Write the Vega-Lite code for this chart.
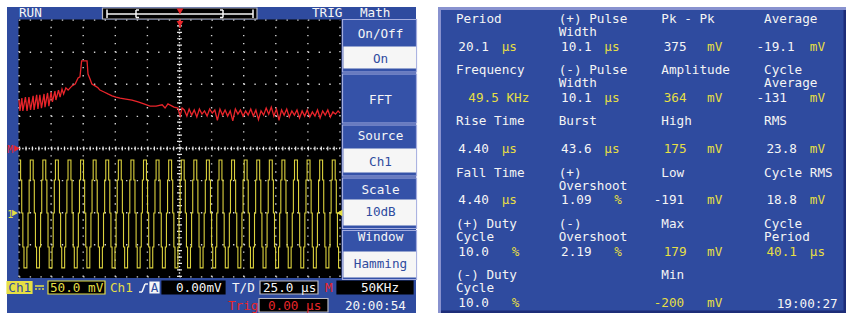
{
"$schema": "https://vega.github.io/schema/vega-lite/v6.json",
"width": 849, "height": 314,
"autosize": {"type": "fit", "contains": "padding"},
"padding": 0,
"background": "#ffffff",
"config": {"view": {"stroke": null}, "axis": {"disable": true}, "legend": {"disable": true}, "text": {"font": "DejaVu Sans Mono", "fontSize": 12.66, "baseline": "alphabetic"}},
"datasets": {
"bg": [
{"x":7,"x2":416,"y":7,"y2":313,"k":"panel"},
{"x":438,"x2":846,"y":7,"y2":313,"k":"bevelLight"},
{"x":441,"x2":846,"y":10,"y2":313,"k":"bevelDark"},
{"x":441,"x2":843.5,"y":10,"y2":310.5,"k":"panel"},
{"x":18.5,"x2":341.5,"y":19.5,"y2":278,"k":"screen"}
],
"boxes": [
{"x":342.5,"x2":416.5,"y":19.5,"y2":72,"k":"menu","s":"menuEdge"},
{"x":342.5,"x2":416.5,"y":74,"y2":123,"k":"menu","s":"menuEdge"},
{"x":342.5,"x2":416.5,"y":125,"y2":176,"k":"menu","s":"menuEdge"},
{"x":342.5,"x2":416.5,"y":178,"y2":228.5,"k":"menu","s":"menuEdge"},
{"x":342.5,"x2":416.5,"y":230.5,"y2":279.5,"k":"menu","s":"menuEdge"},
{"x":344,"x2":415.5,"y":47,"y2":68,"k":"white","s":"white"},
{"x":344,"x2":415.5,"y":149,"y2":172,"k":"white","s":"white"},
{"x":344,"x2":415.5,"y":200,"y2":225,"k":"white","s":"white"},
{"x":344,"x2":415.5,"y":252,"y2":277,"k":"white","s":"white"},
{"x":102.5,"x2":257,"y":8,"y2":19,"k":"black","s":"grey"},
{"x":7,"x2":32,"y":281.5,"y2":293.5,"k":"yellow","s":"yellow"},
{"x":48,"x2":105,"y":281,"y2":294,"k":"black","s":"yellow"},
{"x":150,"x2":159,"y":282,"y2":293,"k":"white","s":"white"},
{"x":162,"x2":225,"y":281,"y2":294,"k":"black","s":"black"},
{"x":260,"x2":318,"y":281,"y2":294,"k":"black","s":"grey"},
{"x":337,"x2":413,"y":281,"y2":294,"k":"black","s":"black"},
{"x":259,"x2":328,"y":298.5,"y2":312,"k":"black","s":"grey"}
],
"segs": [
{"x":107,"y":14,"x2":253,"y2":14,"k":"white"},
{"x":107,"y":9.5,"x2":107,"y2":18,"k":"white"},
{"x":253,"y":9.5,"x2":253,"y2":18,"k":"white"},
{"x":136,"y":10,"x2":136,"y2":17.5,"k":"white"},
{"x":136,"y":10,"x2":139,"y2":10,"k":"white"},
{"x":136,"y":17.5,"x2":139,"y2":17.5,"k":"white"},
{"x":223,"y":10,"x2":223,"y2":17.5,"k":"white"},
{"x":220,"y":10,"x2":223,"y2":10,"k":"white"},
{"x":220,"y":17.5,"x2":223,"y2":17.5,"k":"white"},
{"x":180,"y":19.5,"x2":180,"y2":28,"k":"red"},
{"x":35,"y":286,"x2":44,"y2":286,"k":"yellow"},
{"x":35,"y":289,"x2":37,"y2":289,"k":"yellow"},
{"x":38.5,"y":289,"x2":40.5,"y2":289,"k":"yellow"},
{"x":42,"y":289,"x2":44,"y2":289,"k":"yellow"},
{"x":139,"y":292,"x2":142,"y2":292,"k":"white"},
{"x":142,"y":292,"x2":145,"y2":284,"k":"white"},
{"x":145,"y":284,"x2":148,"y2":284,"k":"white"}
],
"tri": [
{"x":180,"y":11.5,"k":"red","sh":"triangle-down"},
{"x":180,"y":24,"k":"red","sh":"triangle-down"},
{"x":17,"y":148.5,"k":"red","sh":"triangle-right"},
{"x":15,"y":213,"k":"yellow","sh":"triangle-right"},
{"x":339.5,"y":213,"k":"yellow","sh":"triangle-left"}
],
"small": [
{"x":7.3,"y":152.5,"t":"M","k":"red"},
{"x":7.3,"y":217.5,"t":"1","k":"yellow"}
],
"ltext": [
{"x":19,"y":17.3,"t":"RUN","k":"white"},
{"x":312,"y":17.3,"t":"TRIG","k":"white"},
{"x":360,"y":17.3,"t":"Math","k":"white"},
{"x":8.3,"y":291.5,"t":"Ch1","k":"blue"},
{"x":50,"y":291.5,"t":"50.0 mV","k":"yellow"},
{"x":110,"y":291.5,"t":"Ch1","k":"yellow"},
{"x":176,"y":291.5,"t":"0.00mV","k":"white"},
{"x":232,"y":291.5,"t":"T/D","k":"white"},
{"x":263,"y":291.5,"t":"25.0 µs","k":"white"},
{"x":325,"y":291.5,"t":"M","k":"red"},
{"x":228,"y":309.5,"t":"Trig","k":"red"},
{"x":268,"y":309.5,"t":"0.00 µs","k":"red"},
{"x":345,"y":309.5,"t":"20:00:54","k":"white"},
{"x":776.7,"y":307.7,"t":"19:00:27","k":"white"}
],
"ctext": [
{"x":380.5,"y":37.5,"t":"On/Off","k":"white"},
{"x":380.5,"y":62.5,"t":"On","k":"blue"},
{"x":380.5,"y":103.5,"t":"FFT","k":"white"},
{"x":380.5,"y":139.9,"t":"Source","k":"white"},
{"x":380.5,"y":165.9,"t":"Ch1","k":"blue"},
{"x":380.5,"y":194.2,"t":"Scale","k":"white"},
{"x":380.5,"y":215.9,"t":"10dB","k":"blue"},
{"x":380.5,"y":240.9,"t":"Window","k":"white"},
{"x":380.5,"y":268.2,"t":"Hamming","k":"blue"},
{"x":154.5,"y":291.5,"t":"A","k":"blue"},
{"x":380,"y":291.5,"t":"50KHz","k":"white"}
],
"meas": [
{"c":0,"r":0,"l1":"Period","l2":"","val":"\u280020.1","unit":"µs","k":"white"},
{"c":1,"r":0,"l1":"(+) Pulse","l2":"Width","val":"\u280010.1","unit":"µs","k":"white"},
{"c":2,"r":0,"l1":"Pk - Pk","l2":"","val":"\u2800375","unit":"mV","k":"white"},
{"c":3,"r":0,"l1":"Average","l2":"","val":"-19.1","unit":"mV","k":"white"},
{"c":0,"r":1,"l1":"Frequency","l2":"","val":"\u2800\u280049.5 KHz","unit":"","k":"yellow"},
{"c":1,"r":1,"l1":"(-) Pulse","l2":"Width","val":"\u280010.1","unit":"µs","k":"white"},
{"c":2,"r":1,"l1":"Amplitude","l2":"","val":"\u2800364","unit":"mV","k":"yellow"},
{"c":3,"r":1,"l1":"Cycle","l2":"Average","val":"-131","unit":"mV","k":"white"},
{"c":0,"r":2,"l1":"Rise Time","l2":"","val":"\u28004.40","unit":"µs","k":"white"},
{"c":1,"r":2,"l1":"Burst","l2":"","val":"\u280043.6","unit":"µs","k":"white"},
{"c":2,"r":2,"l1":"High","l2":"","val":"\u2800175","unit":"mV","k":"yellow"},
{"c":3,"r":2,"l1":"RMS","l2":"","val":"\u280023.8","unit":"mV","k":"white"},
{"c":0,"r":3,"l1":"Fall Time","l2":"","val":"\u28004.40","unit":"µs","k":"white"},
{"c":1,"r":3,"l1":"(+)","l2":"Overshoot","val":"\u28001.09","unit":"\u2800%","k":"white"},
{"c":2,"r":3,"l1":"Low","l2":"","val":"-191","unit":"mV","k":"white"},
{"c":3,"r":3,"l1":"Cycle RMS","l2":"","val":"\u280018.8","unit":"mV","k":"white"},
{"c":0,"r":4,"l1":"(+) Duty","l2":"Cycle","val":"\u280010.0","unit":"\u2800%","k":"white"},
{"c":1,"r":4,"l1":"(-)","l2":"Overshoot","val":"\u28002.19","unit":"\u2800%","k":"white"},
{"c":2,"r":4,"l1":"Max","l2":"","val":"\u2800179","unit":"mV","k":"yellow"},
{"c":3,"r":4,"l1":"Cycle","l2":"Period","val":"\u280040.1","unit":"µs","k":"yellow"},
{"c":0,"r":5,"l1":"(-) Duty","l2":"Cycle","val":"\u280010.0","unit":"\u2800%","k":"white"},
{"c":2,"r":5,"l1":"Min","l2":"","val":"-200","unit":"mV","k":"yellow"}
],
"hgrid": [{"v":-4},{"v":-3},{"v":-2},{"v":-1},{"v":1},{"v":2},{"v":3},{"v":4}],
"vgrid": [{"t":0},{"t":1},{"t":2},{"t":3},{"t":4},{"t":6},{"t":7},{"t":8},{"t":9},{"t":10}],
"center": [{"t":5,"v":0}],
"fft": [
{"t":0,"v":1.51},{"t":0.03,"v":1.17},{"t":0.09,"v":1.57},{"t":0.12,"v":1.17},{"t":0.2,"v":1.6},{"t":0.25,"v":1.17},{"t":0.31,"v":1.6},{"t":0.36,"v":1.2},{"t":0.44,"v":1.64},{"t":0.47,"v":1.2},{"t":0.55,"v":1.67},{"t":0.59,"v":1.23},{"t":0.65,"v":1.67},{"t":0.7,"v":1.26},{"t":0.78,"v":1.7},{"t":0.81,"v":1.29},{"t":0.89,"v":1.73},{"t":0.93,"v":1.32},{"t":1.0,"v":1.76},{"t":1.04,"v":1.45},{"t":1.12,"v":1.79},{"t":1.15,"v":1.51},{"t":1.23,"v":1.82},{"t":1.28,"v":1.6},{"t":1.34,"v":1.85},{"t":1.39,"v":1.7},{"t":1.46,"v":1.89},{"t":1.53,"v":1.82},{"t":1.65,"v":1.95},{"t":1.75,"v":2.01},{"t":1.84,"v":2.2},{"t":1.9,"v":2.23},{"t":1.95,"v":2.73},{"t":2.12,"v":2.73},{"t":2.15,"v":2.32},{"t":2.21,"v":2.17},{"t":2.27,"v":2.01},{"t":2.37,"v":1.95},{"t":2.46,"v":1.89},{"t":2.52,"v":1.82},{"t":2.65,"v":1.76},{"t":2.77,"v":1.7},{"t":2.9,"v":1.64},{"t":3.02,"v":1.6},{"t":3.15,"v":1.57},{"t":3.33,"v":1.54},{"t":3.52,"v":1.51},{"t":3.71,"v":1.45},{"t":3.89,"v":1.39},{"t":4.08,"v":1.32},{"t":4.27,"v":1.32},{"t":4.46,"v":1.36},{"t":4.55,"v":1.26},{"t":4.64,"v":1.39},{"t":4.83,"v":1.29},{"t":4.95,"v":1.26},{"t":5.02,"v":1.01},{"t":5.08,"v":1.26},
{"t":5.15,"v":1.2},{"t":5.23,"v":1.01},{"t":5.3,"v":1.23},{"t":5.38,"v":1.04},{"t":5.46,"v":1.2},{"t":5.54,"v":0.98},{"t":5.62,"v":1.23},{"t":5.7,"v":1.07},{"t":5.78,"v":1.17},{"t":5.86,"v":1.01},{"t":5.94,"v":1.23},{"t":6.02,"v":1.1},{"t":6.1,"v":1.2},{"t":6.18,"v":0.88},{"t":6.26,"v":1.23},{"t":6.34,"v":1.04},{"t":6.42,"v":1.2},{"t":6.5,"v":1.01},{"t":6.58,"v":1.17},{"t":6.66,"v":0.86},{"t":6.74,"v":1.23},{"t":6.82,"v":1.07},{"t":6.9,"v":1.2},{"t":6.98,"v":1.01},{"t":7.06,"v":1.17},{"t":7.14,"v":1.04},{"t":7.22,"v":1.23},{"t":7.3,"v":1.01},{"t":7.38,"v":1.2},{"t":7.46,"v":0.9},{"t":7.54,"v":1.17},{"t":7.62,"v":1.04},{"t":7.7,"v":1.26},{"t":7.78,"v":1.07},{"t":7.86,"v":1.29},{"t":7.94,"v":1.01},{"t":8.02,"v":1.23},{"t":8.1,"v":0.88},{"t":8.18,"v":1.2},{"t":8.26,"v":1.04},{"t":8.34,"v":1.23},{"t":8.42,"v":0.98},{"t":8.5,"v":1.17},{"t":8.58,"v":1.04},{"t":8.66,"v":1.2},{"t":8.74,"v":0.95},{"t":8.82,"v":1.17},{"t":8.9,"v":1.01},{"t":8.98,"v":1.2},{"t":9.06,"v":0.98},{"t":9.14,"v":1.14},{"t":9.22,"v":1.01},{"t":9.3,"v":1.2},{"t":9.38,"v":0.95},{"t":9.46,"v":1.17},{"t":9.54,"v":1.04},{"t":9.62,"v":1.2},{"t":9.7,"v":0.98},{"t":9.78,"v":1.14},{"t":9.86,"v":1.07},{"t":9.94,"v":1.17},{"t":10.0,"v":1.1}
],
"ch1": [
{"t":0,"v":-0.36},{"t":0.05,"v":-0.98},{"t":0.085,"v":-2.01},{"t":0.12,"v":-3.07},{"t":0.155,"v":-3.72},
{"t":0.246,"v":-3.07},{"t":0.281,"v":-2.01},{"t":0.316,"v":-0.98},{"t":0.351,"v":-0.36},{"t":0.442,"v":-0.98},{"t":0.477,"v":-2.01},{"t":0.512,"v":-3.07},{"t":0.547,"v":-3.72},
{"t":0.638,"v":-3.07},{"t":0.673,"v":-2.01},{"t":0.708,"v":-0.98},{"t":0.743,"v":-0.36},{"t":0.834,"v":-0.98},{"t":0.869,"v":-2.01},{"t":0.904,"v":-3.07},{"t":0.939,"v":-3.72},
{"t":1.03,"v":-3.07},{"t":1.065,"v":-2.01},{"t":1.1,"v":-0.98},{"t":1.135,"v":-0.36},{"t":1.226,"v":-0.98},{"t":1.261,"v":-2.01},{"t":1.296,"v":-3.07},{"t":1.331,"v":-3.72},
{"t":1.422,"v":-3.07},{"t":1.457,"v":-2.01},{"t":1.492,"v":-0.98},{"t":1.527,"v":-0.36},{"t":1.618,"v":-0.98},{"t":1.653,"v":-2.01},{"t":1.688,"v":-3.07},{"t":1.723,"v":-3.72},
{"t":1.814,"v":-3.07},{"t":1.849,"v":-2.01},{"t":1.884,"v":-0.98},{"t":1.919,"v":-0.36},{"t":2.01,"v":-0.98},{"t":2.045,"v":-2.01},{"t":2.08,"v":-3.07},{"t":2.115,"v":-3.72},
{"t":2.206,"v":-3.07},{"t":2.241,"v":-2.01},{"t":2.276,"v":-0.98},{"t":2.311,"v":-0.36},{"t":2.402,"v":-0.98},{"t":2.437,"v":-2.01},{"t":2.472,"v":-3.07},{"t":2.507,"v":-3.72},
{"t":2.598,"v":-3.07},{"t":2.633,"v":-2.01},{"t":2.668,"v":-0.98},{"t":2.703,"v":-0.36},{"t":2.794,"v":-0.98},{"t":2.829,"v":-2.01},{"t":2.864,"v":-3.07},{"t":2.899,"v":-3.72},
{"t":2.99,"v":-3.07},{"t":3.025,"v":-2.01},{"t":3.06,"v":-0.98},{"t":3.095,"v":-0.36},{"t":3.186,"v":-0.98},{"t":3.221,"v":-2.01},{"t":3.256,"v":-3.07},{"t":3.291,"v":-3.72},
{"t":3.382,"v":-3.07},{"t":3.417,"v":-2.01},{"t":3.452,"v":-0.98},{"t":3.487,"v":-0.36},{"t":3.578,"v":-0.98},{"t":3.613,"v":-2.01},{"t":3.648,"v":-3.07},{"t":3.683,"v":-3.72},
{"t":3.774,"v":-3.07},{"t":3.809,"v":-2.01},{"t":3.844,"v":-0.98},{"t":3.879,"v":-0.36},{"t":3.97,"v":-0.98},{"t":4.005,"v":-2.01},{"t":4.04,"v":-3.07},{"t":4.075,"v":-3.72},
{"t":4.166,"v":-3.07},{"t":4.201,"v":-2.01},{"t":4.236,"v":-0.98},{"t":4.271,"v":-0.36},{"t":4.362,"v":-0.98},{"t":4.397,"v":-2.01},{"t":4.432,"v":-3.07},{"t":4.467,"v":-3.72},
{"t":4.558,"v":-3.07},{"t":4.593,"v":-2.01},{"t":4.628,"v":-0.98},{"t":4.663,"v":-0.36},{"t":4.754,"v":-0.98},{"t":4.789,"v":-2.01},{"t":4.824,"v":-3.07},{"t":4.859,"v":-3.72},
{"t":4.95,"v":-3.07},{"t":4.985,"v":-2.01},{"t":5.02,"v":-0.98},{"t":5.055,"v":-0.36},{"t":5.146,"v":-0.98},{"t":5.181,"v":-2.01},{"t":5.216,"v":-3.07},{"t":5.251,"v":-3.72},
{"t":5.342,"v":-3.07},{"t":5.377,"v":-2.01},{"t":5.412,"v":-0.98},{"t":5.447,"v":-0.36},{"t":5.538,"v":-0.98},{"t":5.573,"v":-2.01},{"t":5.608,"v":-3.07},{"t":5.643,"v":-3.72},
{"t":5.734,"v":-3.07},{"t":5.769,"v":-2.01},{"t":5.804,"v":-0.98},{"t":5.839,"v":-0.36},{"t":5.93,"v":-0.98},{"t":5.965,"v":-2.01},{"t":6.0,"v":-3.07},{"t":6.035,"v":-3.72},
{"t":6.126,"v":-3.07},{"t":6.161,"v":-2.01},{"t":6.196,"v":-0.98},{"t":6.231,"v":-0.36},{"t":6.322,"v":-0.98},{"t":6.357,"v":-2.01},{"t":6.392,"v":-3.07},{"t":6.427,"v":-3.72},
{"t":6.518,"v":-3.07},{"t":6.553,"v":-2.01},{"t":6.588,"v":-0.98},{"t":6.623,"v":-0.36},{"t":6.714,"v":-0.98},{"t":6.749,"v":-2.01},{"t":6.784,"v":-3.07},{"t":6.819,"v":-3.72},
{"t":6.91,"v":-3.07},{"t":6.945,"v":-2.01},{"t":6.98,"v":-0.98},{"t":7.015,"v":-0.36},{"t":7.106,"v":-0.98},{"t":7.141,"v":-2.01},{"t":7.176,"v":-3.07},{"t":7.211,"v":-3.72},
{"t":7.302,"v":-3.07},{"t":7.337,"v":-2.01},{"t":7.372,"v":-0.98},{"t":7.407,"v":-0.36},{"t":7.498,"v":-0.98},{"t":7.533,"v":-2.01},{"t":7.568,"v":-3.07},{"t":7.603,"v":-3.72},
{"t":7.694,"v":-3.07},{"t":7.729,"v":-2.01},{"t":7.764,"v":-0.98},{"t":7.799,"v":-0.36},{"t":7.89,"v":-0.98},{"t":7.925,"v":-2.01},{"t":7.96,"v":-3.07},{"t":7.995,"v":-3.72},
{"t":8.086,"v":-3.07},{"t":8.121,"v":-2.01},{"t":8.156,"v":-0.98},{"t":8.191,"v":-0.36},{"t":8.282,"v":-0.98},{"t":8.317,"v":-2.01},{"t":8.352,"v":-3.07},{"t":8.387,"v":-3.72},
{"t":8.478,"v":-3.07},{"t":8.513,"v":-2.01},{"t":8.548,"v":-0.98},{"t":8.583,"v":-0.36},{"t":8.674,"v":-0.98},{"t":8.709,"v":-2.01},{"t":8.744,"v":-3.07},{"t":8.779,"v":-3.72},
{"t":8.87,"v":-3.07},{"t":8.905,"v":-2.01},{"t":8.94,"v":-0.98},{"t":8.975,"v":-0.36},{"t":9.066,"v":-0.98},{"t":9.101,"v":-2.01},{"t":9.136,"v":-3.07},{"t":9.171,"v":-3.72},
{"t":9.262,"v":-3.07},{"t":9.297,"v":-2.01},{"t":9.332,"v":-0.98},{"t":9.367,"v":-0.36},{"t":9.458,"v":-0.98},{"t":9.493,"v":-2.01},{"t":9.528,"v":-3.07},{"t":9.563,"v":-3.72},
{"t":9.654,"v":-3.07},{"t":9.689,"v":-2.01},{"t":9.724,"v":-0.98},{"t":9.759,"v":-0.36},{"t":9.85,"v":-0.98},{"t":9.885,"v":-2.01},{"t":9.92,"v":-3.07},{"t":9.955,"v":-3.72},
{"t":10.0,"v":-3.72}
]
},
"layer": [
{
"layer": [
{"data": {"name": "bg"}, "mark": {"type": "rect"},
 "encoding": {
  "x": {"field": "x", "type": "quantitative", "scale": {"domain": [0, 849], "nice": false, "zero": false}},
  "x2": {"field": "x2"},
  "y": {"field": "y", "type": "quantitative", "scale": {"domain": [0, 314], "reverse": true, "nice": false, "zero": false}},
  "y2": {"field": "y2"},
  "fill": {"field": "k", "type": "nominal", "scale": {"domain": ["panel","bevelLight","bevelDark","screen","menu","menuEdge","white","yellow","red","blue","grey","black"], "range": ["#2f4b9f","#8892cf","#1d2d78","#000000","#3552a8","#a3acdf","#f6f6f6","#e6df45","#e8262a","#2f4c9f","#b8b8c0","#000000"]}}
 }},
{"data": {"name": "boxes"}, "mark": {"type": "rect", "strokeWidth": 1.2},
 "encoding": {
  "x": {"field": "x", "type": "quantitative", "scale": {"domain": [0, 849], "nice": false, "zero": false}},
  "x2": {"field": "x2"},
  "y": {"field": "y", "type": "quantitative", "scale": {"domain": [0, 314], "reverse": true, "nice": false, "zero": false}},
  "y2": {"field": "y2"},
  "fill": {"field": "k", "type": "nominal", "scale": {"domain": ["panel","bevelLight","bevelDark","screen","menu","menuEdge","white","yellow","red","blue","grey","black"], "range": ["#2f4b9f","#8892cf","#1d2d78","#000000","#3552a8","#a3acdf","#f6f6f6","#e6df45","#e8262a","#2f4c9f","#b8b8c0","#000000"]}},
  "stroke": {"field": "s", "type": "nominal", "scale": {"domain": ["panel","bevelLight","bevelDark","screen","menu","menuEdge","white","yellow","red","blue","grey","black"], "range": ["#2f4b9f","#8892cf","#1d2d78","#000000","#3552a8","#a3acdf","#f6f6f6","#e6df45","#e8262a","#2f4c9f","#b8b8c0","#000000"]}}
 }}
]
},
{
"layer": [
{"data": {"name": "hgrid"}, "mark": {"type": "rule", "color": "#d0d0d0", "strokeWidth": 1.4, "strokeDash": [1.4, 9.3]},
 "encoding": {
  "y": {"field": "v", "type": "quantitative", "scale": {"domain": [-5.156, 4.626], "nice": false, "zero": false}},
  "x": {"datum": 0, "type": "quantitative", "scale": {"domain": [-0.5919, 25.857], "nice": false, "zero": false}},
  "x2": {"datum": 10}
 }},
{"data": {"name": "vgrid"}, "mark": {"type": "rule", "color": "#d0d0d0", "strokeWidth": 1.4, "strokeDash": [1.4, 6.62]},
 "encoding": {
  "x": {"field": "t", "type": "quantitative", "scale": {"domain": [-0.5919, 25.857], "nice": false, "zero": false}},
  "y": {"datum": -4, "type": "quantitative", "scale": {"domain": [-5.156, 4.626], "nice": false, "zero": false}},
  "y2": {"datum": 4}
 }},
{"data": {"name": "center"}, "mark": {"type": "rule", "color": "#e8e8e8", "strokeWidth": 1.4, "strokeDash": [1.4, 1.8]},
 "encoding": {
  "y": {"field": "v", "type": "quantitative"},
  "x": {"datum": 0, "type": "quantitative"},
  "x2": {"datum": 10}
 }},
{"data": {"name": "center"}, "mark": {"type": "rule", "color": "#e8e8e8", "strokeWidth": 4, "strokeDash": [1.2, 5.22]},
 "encoding": {
  "y": {"field": "v", "type": "quantitative"},
  "x": {"datum": 0, "type": "quantitative"},
  "x2": {"datum": 10}
 }},
{"data": {"name": "center"}, "mark": {"type": "rule", "color": "#e8e8e8", "strokeWidth": 1.4, "strokeDash": [1.4, 1.8]},
 "encoding": {
  "x": {"field": "t", "type": "quantitative"},
  "y": {"datum": -4, "type": "quantitative"},
  "y2": {"datum": 4}
 }},
{"data": {"name": "center"}, "mark": {"type": "rule", "color": "#e8e8e8", "strokeWidth": 5, "strokeDash": [1.2, 5.22]},
 "encoding": {
  "x": {"field": "t", "type": "quantitative"},
  "y": {"datum": -4, "type": "quantitative"},
  "y2": {"datum": 4}
 }},
{"data": {"name": "fft"}, "mark": {"type": "line", "color": "#e8242a", "strokeWidth": 1.3},
 "encoding": {
  "x": {"field": "t", "type": "quantitative"},
  "y": {"field": "v", "type": "quantitative"}
 }},
{"data": {"name": "ch1"}, "mark": {"type": "line", "color": "#dcd23e", "strokeWidth": 1.1, "interpolate": "step-after"},
 "encoding": {
  "x": {"field": "t", "type": "quantitative"},
  "y": {"field": "v", "type": "quantitative"}
 }}
]
},
{
"layer": [
{"data": {"name": "segs"}, "mark": {"type": "rule", "strokeWidth": 1.5},
 "encoding": {
  "x": {"field": "x", "type": "quantitative", "scale": {"domain": [0, 849], "nice": false, "zero": false}},
  "x2": {"field": "x2"},
  "y": {"field": "y", "type": "quantitative", "scale": {"domain": [0, 314], "reverse": true, "nice": false, "zero": false}},
  "y2": {"field": "y2"},
  "color": {"field": "k", "type": "nominal", "scale": {"domain": ["panel","bevelLight","bevelDark","screen","menu","menuEdge","white","yellow","red","blue","grey","black"], "range": ["#2f4b9f","#8892cf","#1d2d78","#000000","#3552a8","#a3acdf","#f6f6f6","#e6df45","#e8262a","#2f4c9f","#b8b8c0","#000000"]}}
 }},
{"data": {"name": "tri"}, "mark": {"type": "point", "filled": true, "size": 45, "opacity": 1},
 "encoding": {
  "x": {"field": "x", "type": "quantitative"},
  "y": {"field": "y", "type": "quantitative"},
  "shape": {"field": "sh", "type": "nominal", "scale": {"domain": ["triangle-down","triangle-right","triangle-left"], "range": ["triangle-down","triangle-right","triangle-left"]}},
  "color": {"field": "k", "type": "nominal"}
 }},
{"data": {"name": "small"}, "mark": {"type": "text", "align": "left", "fontSize": 10},
 "encoding": {
  "x": {"field": "x", "type": "quantitative"},
  "y": {"field": "y", "type": "quantitative"},
  "text": {"field": "t"},
  "color": {"field": "k", "type": "nominal"}
 }},
{"data": {"name": "ltext"}, "mark": {"type": "text", "align": "left"},
 "encoding": {
  "x": {"field": "x", "type": "quantitative"},
  "y": {"field": "y", "type": "quantitative"},
  "text": {"field": "t"},
  "color": {"field": "k", "type": "nominal"}
 }},
{"data": {"name": "ctext"}, "mark": {"type": "text", "align": "center"},
 "encoding": {
  "x": {"field": "x", "type": "quantitative"},
  "y": {"field": "y", "type": "quantitative"},
  "text": {"field": "t"},
  "color": {"field": "k", "type": "nominal"}
 }}
]
},
{
"layer": [
{"data": {"name": "meas"}, "mark": {"type": "text", "align": "left", "color": "#f4f4f4"},
 "encoding": {
  "x": {"field": "c", "type": "quantitative", "scale": {"domain": [-4.44, 3.827], "nice": false, "zero": false}},
  "y": {"field": "r", "type": "quantitative", "scale": {"domain": [-0.4425, 5.678], "reverse": true, "nice": false, "zero": false}},
  "text": {"field": "l1"}
 }},
{"data": {"name": "meas"}, "mark": {"type": "text", "align": "left", "color": "#f4f4f4", "dy": 13},
 "encoding": {
  "x": {"field": "c", "type": "quantitative"},
  "y": {"field": "r", "type": "quantitative"},
  "text": {"field": "l2"}
 }},
{"data": {"name": "meas"}, "mark": {"type": "text", "align": "left", "dx": -7.62, "dy": 27.8},
 "encoding": {
  "x": {"field": "c", "type": "quantitative"},
  "y": {"field": "r", "type": "quantitative"},
  "text": {"field": "val"},
  "color": {"field": "k", "type": "nominal"}
 }},
{"data": {"name": "meas"}, "mark": {"type": "text", "align": "left", "color": "#e6df45", "dx": 45.7, "dy": 27.8},
 "encoding": {
  "x": {"field": "c", "type": "quantitative"},
  "y": {"field": "r", "type": "quantitative"},
  "text": {"field": "unit"}
 }}
]
}
],
"resolve": {"scale": {"x": "independent", "y": "independent"}}
}
